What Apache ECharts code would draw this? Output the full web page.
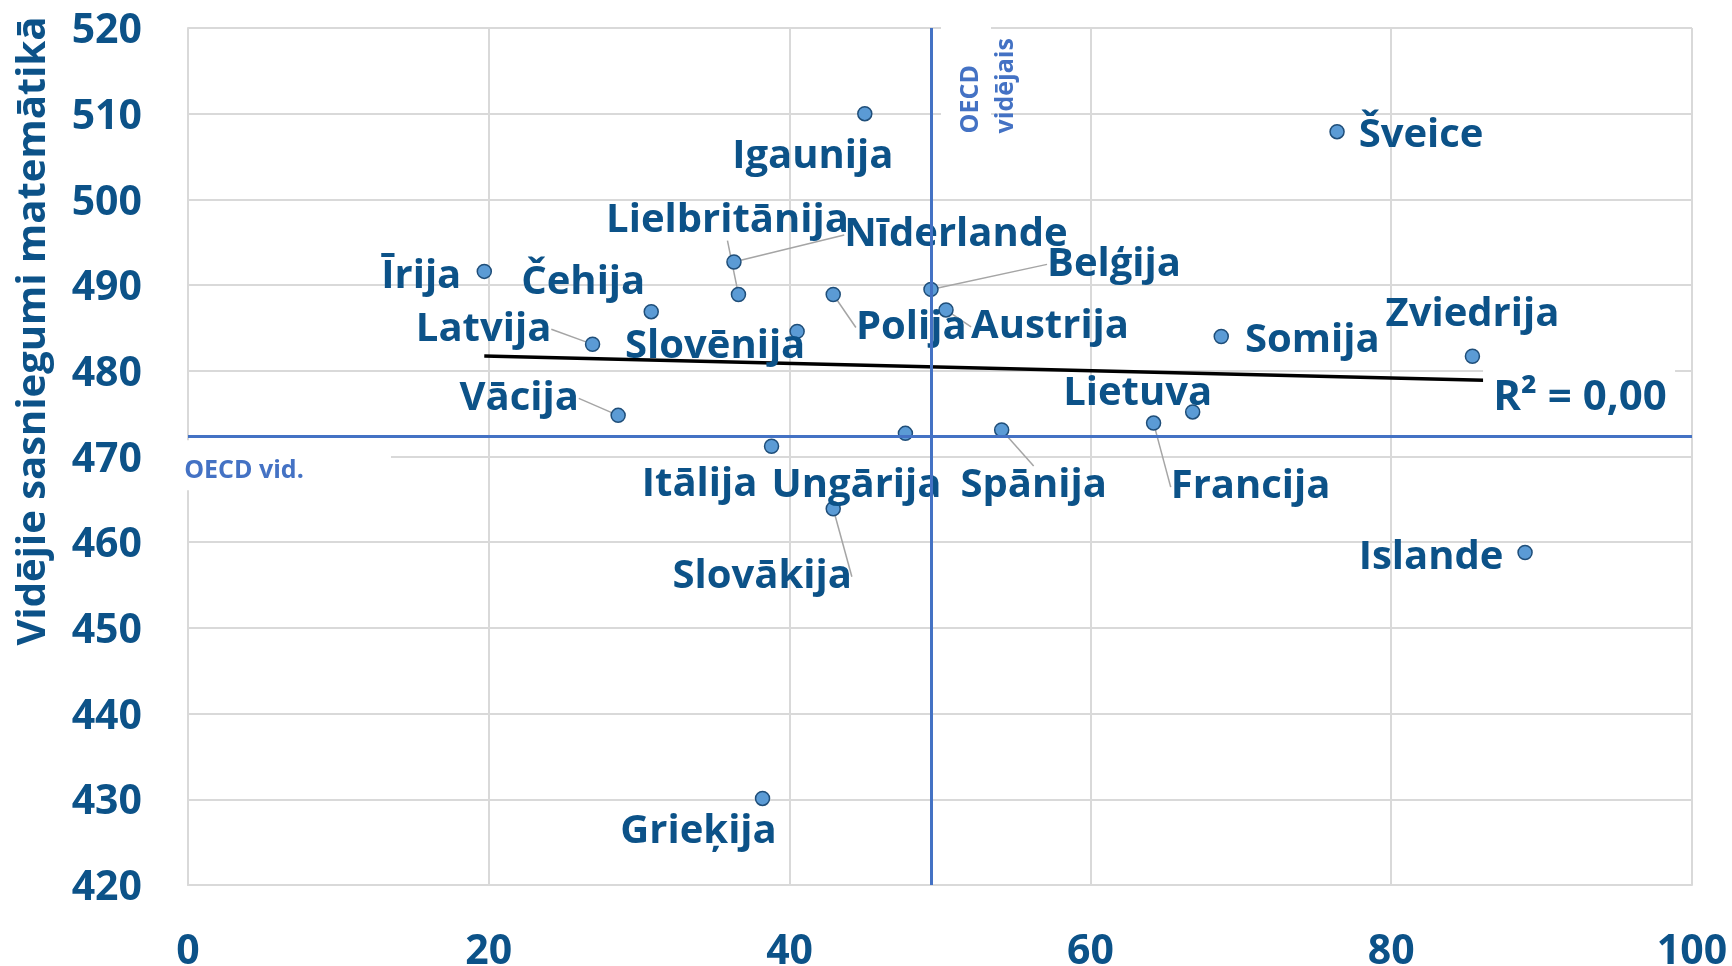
<!DOCTYPE html>
<html>
<head>
<meta charset="utf-8">
<title>Vidējie sasniegumi matemātikā</title>
<script src="https://cdn.jsdelivr.net/npm/echarts@6/dist/echarts.min.js"></script>
<style>
  html, body { margin: 0; padding: 0; background: #fff; }
  #chart { width: 1732px; height: 966px; }
</style>
</head>
<body>
<div id="chart"></div>
<script>
// valstis un to vērtības (nolasītas no attēla)
var countries = ['Īrija', 'Čehija', 'Latvija', 'Vācija', 'Lielbritānija', 'Nīderlande', 'Slovēnija',
  'Polija', 'Igaunija', 'Belģija', 'Austrija', 'Ungārija', 'Itālija', 'Slovākija', 'Grieķija',
  'Spānija', 'Francija', 'Lietuva', 'Somija', 'Zviedrija', 'Šveice', 'Islande'];
var xValues = [19.7, 30.8, 26.9, 28.6, 36.6, 36.3, 40.5,
  42.9, 45.0, 49.4, 50.4, 47.7, 38.8, 42.9, 38.2,
  54.1, 64.2, 66.8, 68.7, 85.4, 76.4, 88.9];
var mathScores = [491.6, 486.9, 483.1, 474.8, 488.9, 492.7, 484.6,
  488.9, 510.0, 489.5, 487.1, 472.7, 471.2, 463.9, 430.1,
  473.1, 473.9, 475.2, 484.0, 481.7, 507.9, 458.8];
var oecdX = 49.4;      // OECD vidējais (vertikālā līnija)
var oecdScore = 472.4; // OECD vid. (horizontālā līnija)
var r2Text = 'R² = 0,00';

// etiķešu nobīdes (px) no punkta
var labelOffsets = {
  'Īrija': [-63, 5], 'Čehija': [-68, -29], 'Latvija': [-109, -15], 'Vācija': [-99, -17],
  'Lielbritānija': [-11, -74], 'Nīderlande': [222, -27], 'Slovēnija': [-82, 15],
  'Polija': [78, 33], 'Igaunija': [-52, 43], 'Belģija': [183, -25], 'Austrija': [104, 17],
  'Ungārija': [-49, 52], 'Itālija': [-72, 38], 'Slovākija': [-71, 68], 'Grieķija': [-64, 33],
  'Spānija': [32, 56], 'Francija': [97, 64], 'Lietuva': [-55, -18], 'Somija': [91, 4],
  'Zviedrija': [0, -42], 'Šveice': [84, 4], 'Islande': [-94, 5]
};
// kurām etiķetēm ir līnija uz punktu
var withLeader = ['Latvija', 'Vācija', 'Lielbritānija', 'Nīderlande', 'Polija',
  'Belģija', 'Austrija', 'Slovākija', 'Spānija', 'Francija'];

var textColor = '#0c5288';
var oecdColor = '#4472c4';
var font = 'Open Sans';

// lineārā tendence
function linearFit(xs, ys) {
  var n = xs.length, sx = 0, sy = 0, sxx = 0, sxy = 0;
  for (var i = 0; i < n; i++) {
    sx += xs[i]; sy += ys[i]; sxx += xs[i] * xs[i]; sxy += xs[i] * ys[i];
  }
  var b = (n * sxy - sx * sy) / (n * sxx - sx * sx);
  var a = (sy - b * sx) / n;
  return { a: a, b: b };
}
var fit = linearFit(xValues, mathScores);
var minX = Math.min.apply(null, xValues);
var maxX = Math.max.apply(null, xValues);
var trendData = [[minX, fit.a + fit.b * minX], [maxX, fit.a + fit.b * maxX]];

var pointData = countries.map(function (name, i) {
  var item = { name: name, value: [xValues[i], mathScores[i]] };
  if (withLeader.indexOf(name) >= 0) {
    item.labelLine = { show: true };
  }
  return item;
});

var chart = echarts.init(document.getElementById('chart'), null, { renderer: 'canvas' });

var option = {
  animation: false,
  backgroundColor: '#fff',
  grid: { left: 188, right: 40, top: 28, bottom: 81, outerBoundsMode: 'none' },
  xAxis: {
    type: 'value',
    min: 0,
    max: 100,
    interval: 20,
    axisLine: { show: true, lineStyle: { color: '#d9d9d9', width: 2 } },
    axisTick: { show: false },
    splitLine: { show: true, lineStyle: { color: '#d9d9d9', width: 2 } },
    axisLabel: {
      margin: 47,
      color: textColor,
      fontFamily: font,
      fontWeight: 'bold',
      fontSize: 41
    }
  },
  yAxis: {
    type: 'value',
    min: 420,
    max: 520,
    interval: 10,
    axisLine: { show: true, lineStyle: { color: '#d9d9d9', width: 2 } },
    axisTick: { show: false },
    splitLine: { show: true, lineStyle: { color: '#d9d9d9', width: 2 } },
    axisLabel: {
      margin: 46,
      verticalAlign: 'top',
      lineHeight: 7,
      color: textColor,
      fontFamily: font,
      fontWeight: 'bold',
      fontSize: 41
    }
  },
  graphic: [{
    type: 'text',
    x: 34,
    y: 331,
    rotation: Math.PI / 2,
    style: {
      text: 'Vidējie sasniegumi matemātikā',
      fill: textColor,
      fontFamily: font,
      fontWeight: 'bold',
      fontSize: 40,
      textAlign: 'center',
      textVerticalAlign: 'middle'
    }
  }],
  series: [
    {
      name: 'Tendence',
      type: 'line',
      data: trendData,
      symbol: 'none',
      silent: true,
      z: 2,
      lineStyle: { color: '#000', width: 3.5 }
    },
    {
      name: 'Valstis',
      type: 'scatter',
      data: pointData,
      symbolSize: 14,
      z: 3,
      itemStyle: { color: '#5b9bd5', borderColor: '#1f4e79', borderWidth: 1.5, opacity: 1 },
      label: {
        show: true,
        position: 'inside',
        formatter: '{b}',
        color: textColor,
        fontFamily: font,
        fontWeight: 'bold',
        fontSize: 40
      },
      labelLine: { show: false, lineStyle: { color: '#a5a5a5', width: 1.5 } },
      labelLayout: function (p) {
        var o = labelOffsets[countries[p.dataIndex]];
        return { dx: o[0], dy: o[1] };
      },
      markLine: {
        silent: true,
        symbol: 'none',
        label: { show: false },
        lineStyle: { color: oecdColor, width: 3, type: 'solid' },
        data: [{ xAxis: oecdX }, { yAxis: oecdScore }]
      }
    },
    {
      name: 'Piezīmes',
      type: 'scatter',
      data: [],
      z: 5,
      silent: true,
      markPoint: {
        silent: true,
        label: { show: false },
        data: [
          // baltie fona laukumi
          { coord: [92.49, 477.15], symbol: 'rect', symbolSize: [192, 70], itemStyle: { color: '#fff' } },
          { coord: [6.48, 468.99], symbol: 'rect', symbolSize: [211, 50], itemStyle: { color: '#fff' } },
          { coord: [51.73, 514.35], symbol: 'rect', symbolSize: [50, 124], itemStyle: { color: '#fff' } },
          // teksti
          {
            coord: [92.55, 476.86], symbol: 'circle', symbolSize: 1, itemStyle: { color: 'rgba(0,0,0,0)' },
            label: {
              show: true, position: 'inside', formatter: r2Text, color: textColor,
              fontFamily: font, fontWeight: 'bold', fontSize: 42, align: 'center', verticalAlign: 'middle'
            }
          },
          {
            coord: [3.72, 468.3], symbol: 'circle', symbolSize: 1, itemStyle: { color: 'rgba(0,0,0,0)' },
            label: {
              show: true, position: 'inside', formatter: 'OECD vid.', color: oecdColor,
              fontFamily: font, fontWeight: 'bold', fontSize: 25, align: 'center', verticalAlign: 'middle'
            }
          },
          {
            coord: [53.2, 507.7], symbol: 'circle', symbolSize: 1, itemStyle: { color: 'rgba(0,0,0,0)' },
            label: {
              show: true, position: 'inside', formatter: 'OECD\nvidējais', color: oecdColor,
              fontFamily: font, fontWeight: 'bold', fontSize: 25, lineHeight: 35,
              rotate: 90, align: 'left', verticalAlign: 'middle'
            }
          }
        ]
      }
    }
  ]
};

chart.setOption(option);
</script>
</body>
</html>
